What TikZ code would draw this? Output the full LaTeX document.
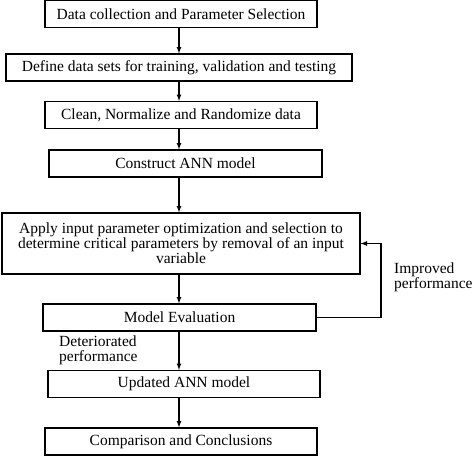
\documentclass[tikz,border=0pt]{standalone}
\usepackage{fontspec}
\setmainfont{Liberation Serif}
\usetikzlibrary{arrows}

\begin{document}
\begin{tikzpicture}[>=latex, x=1pt, y=-1pt, font=\fontsize{15.5}{15}\selectfont,
box/.style={draw, line width=1.2pt, inner sep=0pt, align=center, minimum height=27pt}]

\useasboundingbox (0, 0) rectangle (474, 456);

\coordinate (ax) at (179, 0);
\coordinate (fb) at (381, 0);

\node[box, minimum width=272pt] (collect) at (181, 14) {Data collection and Parameter Selection};
\node[box, minimum width=346pt] (define) at (179, 67.5) {Define data sets for training, validation and testing};
\node[box, minimum width=272pt] (clean) at (181, 115) {Clean, Normalize and Randomize data};
\node[box, minimum width=273pt] (construct) at (185.5, 163.5) {Construct ANN model};
\node[box, minimum width=358pt, minimum height=61pt] (apply) at (181, 243.5) {Apply input parameter optimization and selection to\\ determine critical parameters by removal of an input\\ variable};
\node[box, minimum width=273pt] (eval) at (179.5, 317.5) {Model Evaluation};
\node[box, minimum width=272pt] (update) at (184, 384) {Updated ANN model};
\node[box, minimum width=272pt] (compare) at (181, 441.5) {Comparison and Conclusions};

\draw[->, line width=1.2pt] (collect.south -| ax) -- (define.north -| ax);
\draw[->, line width=1.2pt] (define.south -| ax) -- (clean.north -| ax);
\draw[->, line width=1.2pt] (clean.south -| ax) -- (construct.north -| ax);
\draw[->, line width=1.2pt] (construct.south -| ax) -- (apply.north -| ax);
\draw[->, line width=1.2pt] (apply.south -| ax) -- (eval.north -| ax);
\draw[->, line width=1.2pt] (eval.south -| ax) -- (update.north -| ax);
\draw[->, line width=1.2pt] (update.south -| ax) -- (compare.north -| ax);

\draw[->, line width=1.2pt] (eval.east) -- (eval.east -| fb) -- (apply.east -| fb) -- (apply.east);

\node[right, align=left, inner sep=0pt] (improved) at (394, 277) {Improved\\performance};
\node[right, align=left, inner sep=0pt] (deteriorated) at (59, 350) {Deteriorated\\performance};

\end{tikzpicture}
\end{document}
